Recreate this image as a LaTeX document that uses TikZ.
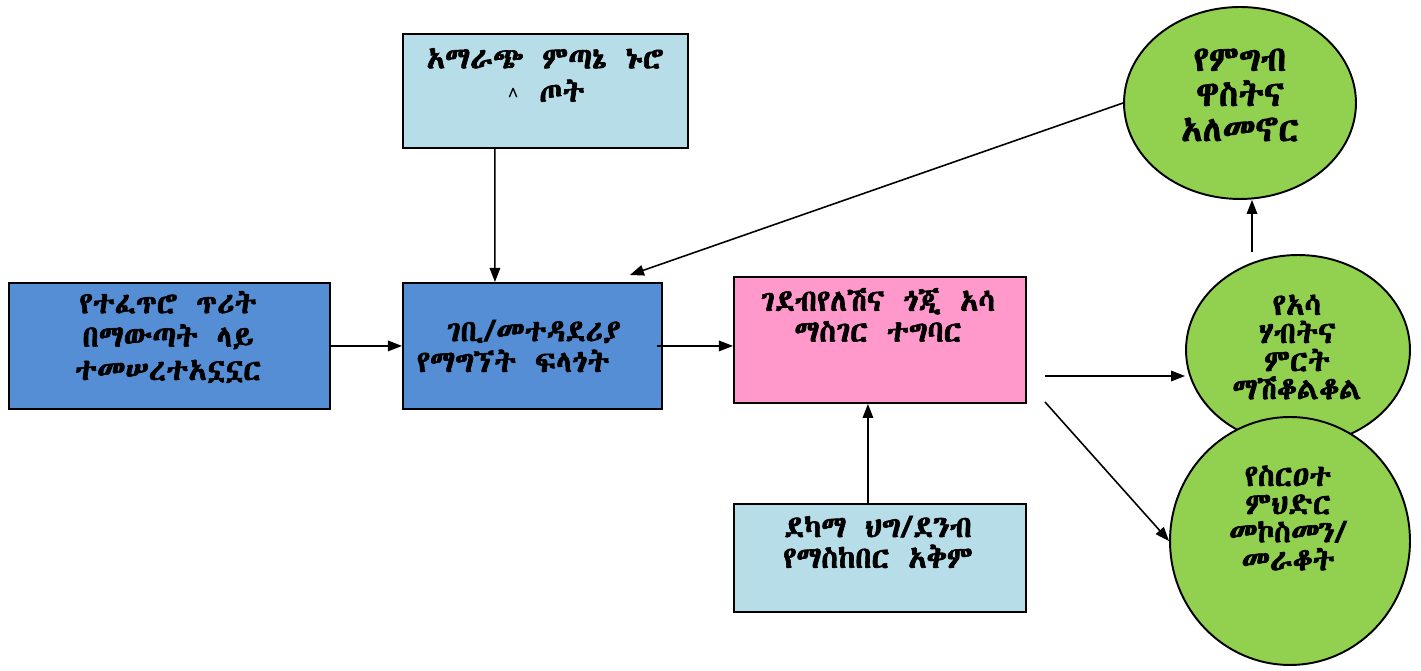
\documentclass[tikz,border=0pt]{standalone}
\usepackage{fontspec}
\usetikzlibrary{arrows.meta,shapes.geometric}
\IfFontExistsTF{Abyssinica SIL}{\newfontfamily\eth[FakeBold=2]{Abyssinica SIL}}{%
  \IfFontExistsTF{FreeSerif}{\newfontfamily\eth[FakeBold=2]{FreeSerif}}{%
    \newfontfamily\eth[FakeBold=2]{DejaVu Sans}}}
\definecolor{lblue}{RGB}{183,221,232}
\definecolor{mblue}{RGB}{85,142,213}
\definecolor{pinkc}{RGB}{255,153,204}
\definecolor{greenc}{RGB}{146,208,80}
\begin{document}
\begin{tikzpicture}[x=0.02cm,y=-0.02cm,
  box/.style={draw=black, line width=1.1pt, inner sep=0pt, anchor=north west},
  oval/.style={ellipse, draw=black, line width=1.1pt, fill=greenc, inner sep=0pt},
  txt/.style={font=\eth\fontsize{17.3}{17.5}\selectfont, align=center, inner sep=0pt},
  ctxt/.style={font=\eth\fontsize{17.3}{16}\selectfont, align=center, inner sep=0pt},
  bigtxt/.style={font=\eth\fontsize{20}{20}\selectfont, align=center, inner sep=0pt},
  arr/.style={-{Triangle[length=8pt,width=6pt]}, line width=0.9pt},
]
\useasboundingbox (0,0) rectangle (1421,671);
% boxes
\node[box, fill=lblue, minimum width=5.7cm, minimum height=2.28cm] (top) at (402,33) {};
\node[box, fill=mblue, minimum width=6.42cm, minimum height=2.52cm] (left) at (8,282) {};
\node[box, fill=mblue, minimum width=5.18cm, minimum height=2.52cm] (mid) at (402,282) {};
\node[box, fill=pinkc, minimum width=5.84cm, minimum height=2.52cm] (pink) at (733,276) {};
\node[box, fill=lblue, minimum width=5.84cm, minimum height=2.16cm] (bot) at (733,503) {};
% circles
\node[oval, minimum width=4.64cm, minimum height=3.84cm] (tc) at (1240,103) {};
\node[oval, minimum width=4.48cm, minimum height=3.8cm] (mc) at (1298,350) {};
\node[oval, minimum width=4.8cm, minimum height=4.96cm] (bc) at (1290,541) {};
% texts
\node[txt, font=\eth\fontsize{17.3}{19}\selectfont] (ttop) at (545,75) {አማራጭ\, ምጣኔ\, ኑሮ\\\raisebox{0.15em}{\fontsize{9}{9}\selectfont\textasciicircum}\, ጦት};
\node[txt,font=\eth\fontsize{17.3}{19}\selectfont] (tleft) at (168,337) {የተፈጥሮ\, ጥሪት\\በማውጣት\, ላይ\\ተመሠረተአኗኗር};
\node[txt] (tmid) at (520,346) {\ \ ገቢ/መተዳደሪያ\\የማግኘት\, ፍላጎት\ \ };
\node[txt] (tpink) at (878,315) {ገደብየለሽና\, ጎጂ\, አሳ\\ማስገር\, ተግባር};
\node[txt] (tbot) at (878,542) {ደካማ\, ህግ/ደንብ\\የማስከበር\, አቅም};
\node[bigtxt] (ttc) at (1240,95) {የምግብ\\ዋስትና\\አለመኖር};
\node[ctxt] (tmc) at (1297,347) {የአሳ\\ሃብትና\\ምርት\\ማሽቆልቆል};
\node[ctxt] (tbc) at (1288,518) {የስርዐተ\\ምህድር\\መኮስመን/\\መራቆት};
% connectors
\coordinate (p1) at (1045,376);
\coordinate (p2) at (1045,402);
\coordinate (u1) at (1252,252);
\draw[arr] ([xshift=-1.01cm]top.south) -- ([xshift=-0.75cm]mid.north);
\draw[arr] (left.east) -- (mid.west);
\draw[arr] ([xshift=-0.12cm]mid.east) -- (mid.east -| pink.west);
\draw[arr] ([xshift=-0.24cm]bot.north) -- ([xshift=-0.24cm]pink.south);
\draw[arr] (p1) -- (p1 -| mc.west);
\draw[arr] (p2) -- (bc.west);
\draw[arr] (tc.west) -- ([xshift=-0.66cm,yshift=0.14cm]mid.north east);
\draw[arr] (u1) -- (u1 |- tc.south);
\end{tikzpicture}
\end{document}
